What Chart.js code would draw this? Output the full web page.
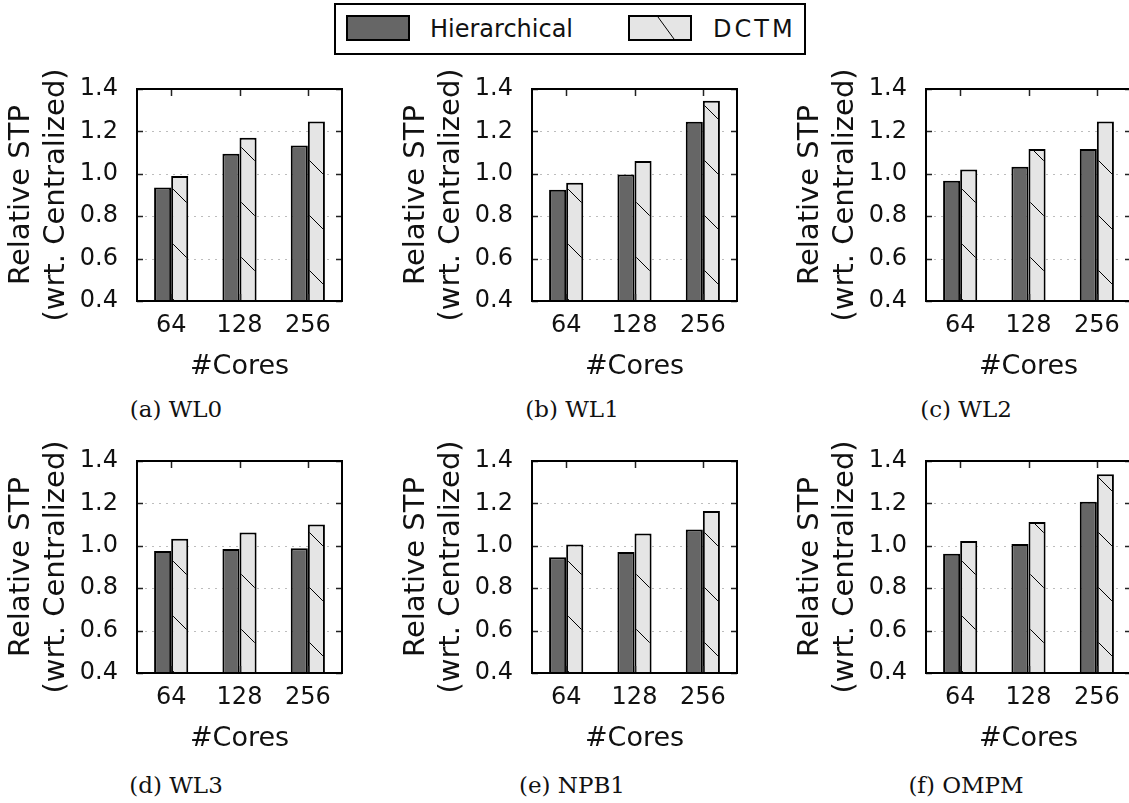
<!DOCTYPE html>
<html>
<head>
<meta charset="utf-8">
<script src="https://cdn.jsdelivr.net/npm/chart.js@4.4.0/dist/chart.umd.min.js"></script>
<style>
  html, body { margin: 0; padding: 0; background: #fff; }
  body { width: 1129px; height: 803px; position: relative; overflow: hidden; }
  canvas.panel { position: absolute; }
  .caption { position: absolute; width: 240px; text-align: center; font-family: "DejaVu Serif", serif; font-size: 23px; color: #111; }
  #legend { position: absolute; left: 334px; top: 3px; width: 468px; height: 48px; border: 2px solid #000; font-family: "DejaVu Sans", sans-serif; font-size: 24px; color: #111; }
  #legend .item { position: absolute; top: 0; height: 48px; line-height: 48px; }
  #legend svg { position: absolute; }
</style>
</head>
<body>
<div id="legend">
  <svg style="left:10px;top:10px" width="64" height="26"><rect x="1" y="1" width="62" height="24" fill="#666666" stroke="#000" stroke-width="2"/></svg>
  <div class="item" style="left:94px">Hierarchical</div>
  <svg style="left:292px;top:10px" width="64" height="26"><rect x="1" y="1" width="62" height="24" fill="#e5e5e5" stroke="#000" stroke-width="2"/><line x1="30" y1="2" x2="46" y2="24" stroke="#000" stroke-width="1"/></svg>
  <div class="item" style="left:377px;letter-spacing:3px">DCTM</div>
</div>
<script>
// Categories and tick labels
const cores = ['64', '128', '256'];
const yTicks = [0.4, 0.6, 0.8, 1.0, 1.2, 1.4];
const captions = ['(a) WL0', '(b) WL1', '(c) WL2', '(d) WL3', '(e) NPB1', '(f) OMPM'];

// Relative STP values
const hierWL0 = [0.935, 1.095, 1.133];
const dctmWL0 = [0.99, 1.17, 1.247];
const hierWL1 = [0.925, 0.997, 1.245];
const dctmWL1 = [0.958, 1.06, 1.345];
const hierWL2 = [0.967, 1.033, 1.117];
const dctmWL2 = [1.02, 1.117, 1.247];
const hierWL3 = [0.975, 0.985, 0.988];
const dctmWL3 = [1.033, 1.063, 1.1];
const hierNPB1 = [0.946, 0.971, 1.077];
const dctmNPB1 = [1.006, 1.058, 1.164];
const hierOMPM = [0.963, 1.009, 1.208];
const dctmOMPM = [1.023, 1.112, 1.337];

const hierSeries = [hierWL0, hierWL1, hierWL2, hierWL3, hierNPB1, hierOMPM];
const dctmSeries = [dctmWL0, dctmWL1, dctmWL2, dctmWL3, dctmNPB1, dctmOMPM];

// Hatch pattern for DCTM bars ("\" lines, one every 55px)
function makeHatch() {
    const size = 55, shift = 11;
    const c = document.createElement('canvas');
    c.width = size; c.height = size;
    const g = c.getContext('2d');
    g.fillStyle = '#e5e5e5';
    g.fillRect(0, 0, size, size);
    g.strokeStyle = '#000';
    g.lineWidth = 1;
    g.beginPath();
    g.moveTo(-5, shift - 5); g.lineTo(size + 5, shift + size + 5);
    g.moveTo(-5, shift - size - 5); g.lineTo(size + 5, shift + 5);
    g.stroke();
    return g.createPattern(c, 'repeat');
}

// Dotted horizontal grid behind the bars
const dotGrid = {
    id: 'dotGrid',
    beforeDatasetsDraw(chart) {
        const ctx = chart.ctx;
        const a = chart.chartArea;
        const ys = chart.scales.y;
        ctx.save();
        ctx.strokeStyle = '#bdbdbd';
        ctx.lineWidth = 1;
        ctx.setLineDash([2, 5]);
        ctx.beginPath();
        ys.ticks.forEach((t, i) => {
            if (t.value <= ys.min || t.value >= ys.max) return;
            const py = Math.round(ys.getPixelForTick(i)) + 0.5;
            ctx.moveTo(a.left + 8, py); ctx.lineTo(a.right - 8, py);
        });
        ctx.stroke();
        ctx.restore();
    }
};

// Frame and inward tick marks, matplotlib style
const frameTicks = {
    id: 'frameTicks',
    afterDraw(chart) {
        const ctx = chart.ctx;
        const a = chart.chartArea;
        const ys = chart.scales.y;
        const xs = chart.scales.x;
        ctx.save();
        ctx.strokeStyle = '#222';
        ctx.lineWidth = 1.5;
        ctx.beginPath();
        ys.ticks.forEach((t, i) => {
            const py = Math.round(ys.getPixelForTick(i)) + 0.5;
            ctx.moveTo(a.left, py); ctx.lineTo(a.left + 6, py);
            ctx.moveTo(a.right - 6, py); ctx.lineTo(a.right, py);
        });
        xs.ticks.forEach((t, i) => {
            const px = Math.round(xs.getPixelForTick(i)) + 0.5;
            ctx.moveTo(px, a.top); ctx.lineTo(px, a.top + 7);
            ctx.moveTo(px, a.bottom); ctx.lineTo(px, a.bottom - 7);
        });
        ctx.stroke();
        ctx.strokeStyle = '#000';
        ctx.lineWidth = 2;
        ctx.strokeRect(a.left, a.top, a.right - a.left, a.bottom - a.top);
        ctx.restore();
    }
};

const colLefts = [0, 395, 789];
const rowTops = [60, 432];
const captionCenters = [176, 572, 966];
const captionTops = [396, 772];

function makePanel(idx) {
    const col = idx % 3, row = Math.floor(idx / 3);
    const canvas = document.createElement('canvas');
    canvas.className = 'panel';
    canvas.width = 380; canvas.height = 330;
    canvas.style.left = colLefts[col] + 'px';
    canvas.style.top = rowTops[row] + 'px';
    document.body.appendChild(canvas);

    const cap = document.createElement('div');
    cap.className = 'caption';
    cap.textContent = captions[idx];
    cap.style.left = (captionCenters[col] - 120) + 'px';
    cap.style.top = captionTops[row] + 'px';
    document.body.appendChild(cap);

    new Chart(canvas.getContext('2d'), {
        type: 'bar',
        data: {
            labels: cores,
            datasets: [{
                label: 'Hierarchical',
                data: hierSeries[idx],
                backgroundColor: '#666666',
                borderColor: '#000',
                borderWidth: 2,
                borderSkipped: false
            }, {
                label: 'DCTM',
                data: dctmSeries[idx],
                backgroundColor: makeHatch(),
                borderColor: '#000',
                borderWidth: 2,
                borderSkipped: false
            }]
        },
        options: {
            responsive: false,
            animation: false,
            events: [],
            layout: { padding: { top: 29, right: 38, bottom: 6, left: 0 } },
            datasets: { bar: { categoryPercentage: 0.5, barPercentage: 1.0 } },
            scales: {
                x: {
                    offset: true,
                    grid: { display: false },
                    border: { display: false },
                    ticks: { color: '#111', font: { family: 'DejaVu Sans', size: 24 }, padding: 2 },
                    title: {
                        display: true, text: '#Cores', color: '#111',
                        font: { family: 'DejaVu Sans', size: 27 },
                        padding: { top: 0, bottom: 1 }
                    },
                    afterFit(scale) { scale.height = 83; scale.paddingLeft = 0; scale.paddingRight = 0; }
                },
                y: {
                    min: 0.4, max: 1.4,
                    afterBuildTicks(scale) { scale.ticks = yTicks.map(v => ({ value: v })); },
                    grid: { display: false },
                    border: { display: false },
                    ticks: {
                        color: '#111', padding: 11,
                        font: { family: 'DejaVu Sans', size: 24 },
                        callback: v => Number(v).toFixed(1)
                    },
                    title: {
                        display: true, text: ['Relative STP', '(wrt. Centralized)'], color: '#111',
                        font: { family: 'DejaVu Sans', size: 29 },
                        padding: { top: 4, bottom: 0 }
                    },
                    afterFit(scale) { scale.width = 137; scale.paddingTop = 0; scale.paddingBottom = 0; }
                }
            },
            plugins: { legend: { display: false }, tooltip: { enabled: false } }
        },
        plugins: [dotGrid, frameTicks]
    });
}

for (let i = 0; i < 6; i++) makePanel(i);
</script>
</body>
</html>
